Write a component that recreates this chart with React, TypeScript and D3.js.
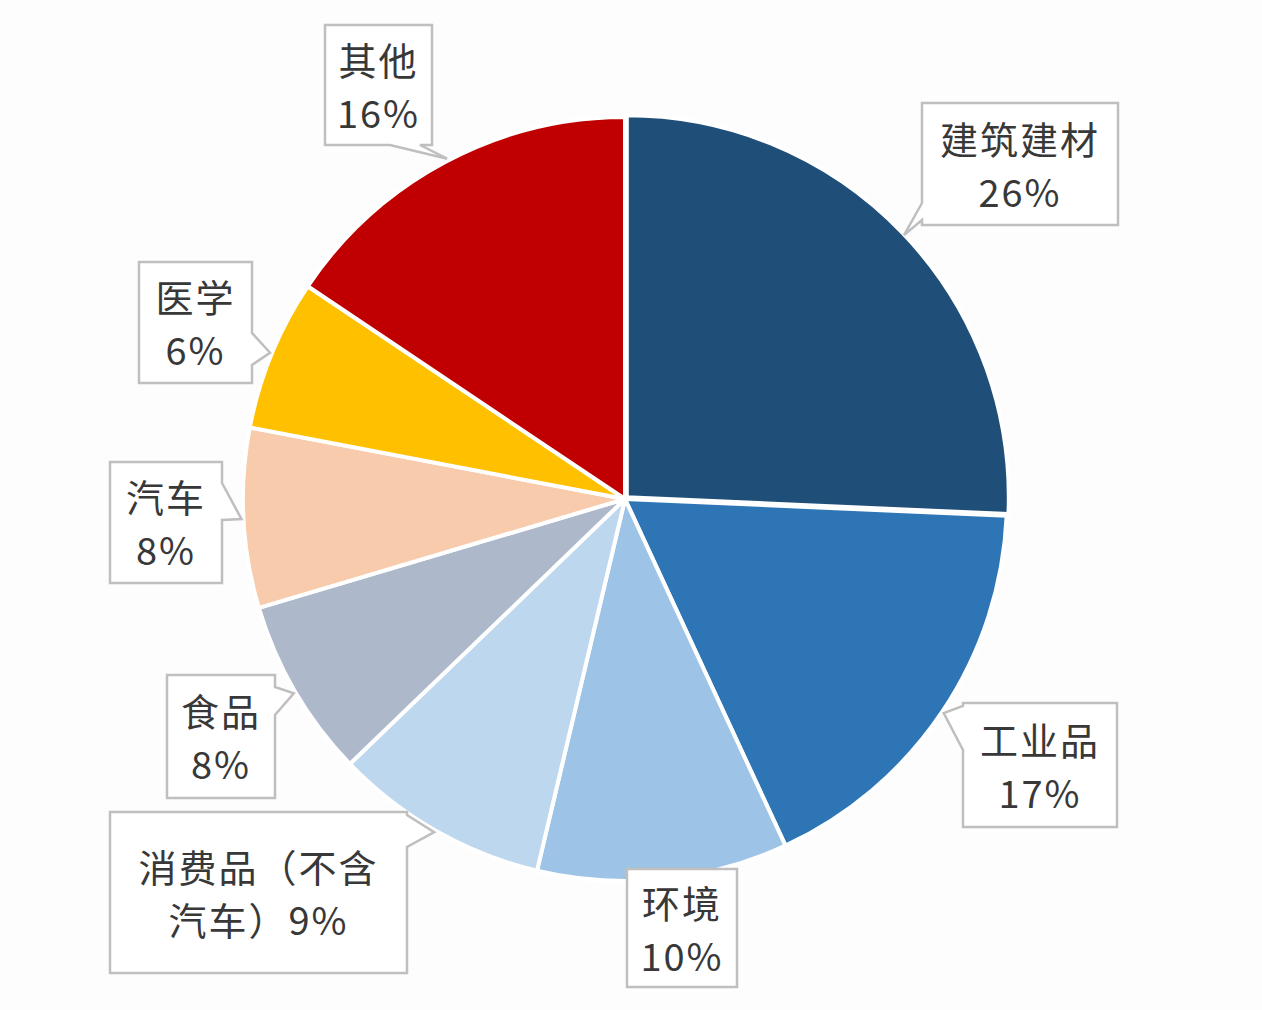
import React, { useEffect, useRef } from 'react';
import * as d3 from 'd3';

// data
const categories = ['建筑建材', '工业品', '环境', '消费品（不含汽车）', '食品', '汽车', '医学', '其他'];
// slice sizes (labels show the rounded figures)
const shares = [25.7, 17.4, 10.6, 9.1, 7.6, 7.6, 6.4, 15.6];
const pctLabels = [26, 17, 10, 9, 8, 8, 6, 16];
const colors = ['#1F4E79', '#2E75B6', '#9DC3E6', '#BDD7EE', '#ADB9CA', '#F8CBAD', '#FFC000', '#C00000'];

// callout layout: box, the edge the pointer leaves from, pointer base along that edge, tip angle (deg)
const callouts = [
  { x: 922, y: 103, w: 196, h: 122, side: 'left', base: [220, 203], tip: 46.6 },
  { x: 963, y: 703, w: 154, h: 124, side: 'left', base: [750, 706], tip: 123.9 },
  { x: 627, y: 869, w: 110, h: 118, side: 'none', base: [0, 0], tip: 165.6 },
  { x: 110, y: 812, w: 297, h: 161, side: 'right', base: [815, 847], tip: 209.8 },
  { x: 167, y: 675, w: 108, h: 123, side: 'right', base: [687, 715], tip: 239.6 },
  { x: 110, y: 462, w: 112, h: 121, side: 'right', base: [483, 520], tip: 267 },
  { x: 139, y: 262, w: 113, h: 121, side: 'right', base: [333, 365], tip: 292.4 },
  { x: 325, y: 25, w: 107, h: 120, side: 'bottom', base: [420, 390], tip: 332.4 },
];

const W = 1262;
const H = 1010;
const cx = 625;
const cy = 499;
const R = 382;

function labelLines(name: string, pct: number): string[] {
  if (name.length <= 4) return [name, `${pct}%`];
  const full = name + `${pct}%`;
  return [full.slice(0, 6), full.slice(6)];
}

function calloutPath(c: typeof callouts[number], tip: [number, number]): string {
  const { x, y, w, h, side, base } = c;
  const pts: [number, number][] = [[x, y]];
  if (side === 'top') pts.push([base[0], y], tip, [base[1], y]);
  pts.push([x + w, y]);
  if (side === 'right') pts.push([x + w, base[0]], tip, [x + w, base[1]]);
  pts.push([x + w, y + h]);
  if (side === 'bottom') pts.push([base[0], y + h], tip, [base[1], y + h]);
  pts.push([x, y + h]);
  if (side === 'left') pts.push([x, base[0]], tip, [x, base[1]]);
  return 'M' + pts.map(p => p.join(',')).join('L') + 'Z';
}

const App: React.FC = () => {
  const svgRef = useRef<SVGSVGElement>(null);

  useEffect(() => {
    if (!svgRef.current) return;
    const svg = d3.select(svgRef.current);
    svg.selectAll('*').remove();

    svg.append('rect').attr('width', W).attr('height', H).attr('fill', '#fdfdfd');

    const data = categories.map((name, i) => ({ name, value: shares[i], pct: pctLabels[i], color: colors[i] }));
    const pie = d3.pie<typeof data[number]>().value(d => d.value).sort(null);
    const arcs = pie(data);
    const arc = d3.arc<d3.PieArcDatum<typeof data[number]>>().innerRadius(0).outerRadius(R);

    const g = svg.append('g').attr('transform', `translate(${cx},${cy})`);
    g.selectAll('path.slice')
      .data(arcs)
      .enter()
      .append('path')
      .attr('class', 'slice')
      .attr('d', arc)
      .attr('fill', d => d.data.color)
      .attr('stroke', '#ffffff')
      .attr('stroke-width', 4)
      .attr('stroke-linejoin', 'round')
      .attr('transform', (d, i) => {
        // first slice is pulled out a little
        if (i !== 0) return null;
        const mid = (d.startAngle + d.endAngle) / 2;
        return `translate(${2.5 * Math.sin(mid)},${-2.5 * Math.cos(mid)})`;
      });

    // callouts
    const lg = svg.append('g');
    arcs.forEach((a, i) => {
      const c = callouts[i];
      const ang = (c.tip * Math.PI) / 180;
      const tip: [number, number] = [cx + 384 * Math.sin(ang), cy - 384 * Math.cos(ang)];
      lg.append('path')
        .attr('d', calloutPath(c, tip))
        .attr('fill', '#ffffff')
        .attr('stroke', '#bfbfbf')
        .attr('stroke-width', 2.5)
        .attr('stroke-linejoin', 'miter');
      const lines = labelLines(a.data.name, a.data.pct);
      const mx = c.x + c.w / 2;
      const my = c.y + c.h / 2;
      lines.forEach((t, k) => {
        lg.append('text')
          .attr('x', mx)
          .attr('y', my + (k === 0 ? -27 : 26))
          .attr('text-anchor', 'middle')
          .attr('dominant-baseline', 'central')
          .attr('font-family', '"Noto Sans CJK SC", "Noto Sans", sans-serif')
          .attr('font-size', 38)
          .attr('letter-spacing', 2)
          .attr('fill', '#383838')
          .text(t);
      });
    });
  }, []);

  return (
    <div style={{ position: 'absolute', left: 0, top: 0, width: W, height: H }}>
      <svg ref={svgRef} width={W} height={H} />
    </div>
  );
};

export default App;
